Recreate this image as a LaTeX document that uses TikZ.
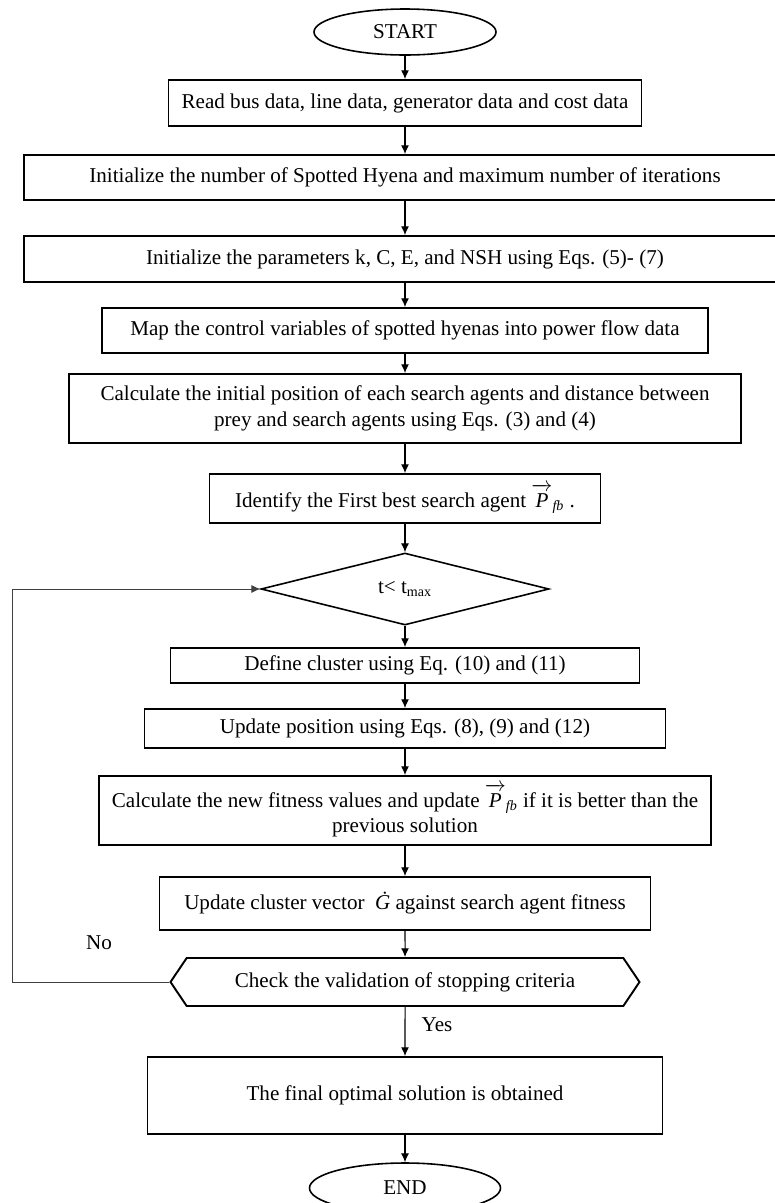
\documentclass[tikz,border=0pt]{standalone}
\usepackage{fontspec}
\setmainfont{Liberation Serif}
\usepackage{tikz}
\usetikzlibrary{shapes, backgrounds}
\usetikzlibrary{arrows.meta}

\newcommand{\pfb}{$\overrightarrow{\mathit{P}\rule{0pt}{10pt}}_{\mathit{fb}}$}

\begin{document}
\begin{tikzpicture}[internal/.style={draw, rectangle, line width=1.1pt, inner sep=4pt},
			terminal/.style={draw, ellipse, line width=0.9pt, inner sep=2pt},
			flow/.style={->, >={Latex[length=5pt, width=4.5pt]}, line width=0.6pt},
			every node/.style={font=\fontsize{12}{14.5}\selectfont},
			every text node part/.style={align=center}]
			\useasboundingbox (0, 0) rectangle (15.5, -24.06);

			\node[terminal, minimum width=3.64cm, minimum height=0.92cm](node1) at (8.1, -0.64) {START};
			\node[internal, minimum width=9.46cm, minimum height=0.92cm](node2) at (8.1, -2.06) {Read bus data, line data, generator data and cost data};
			\draw[flow] (node1) edge (node2);

			\node[internal, minimum width=15.24cm, minimum height=0.9cm](node3) at (8.1, -3.55) {Initialize the number of Spotted Hyena and maximum number of iterations};
			\draw[flow] (node2) edge (node3);

			\node[internal, minimum width=15.24cm, minimum height=0.92cm](node4) at (8.1, -5.18) {Initialize the parameters k, C, E, and NSH using Eqs. (5)- (7)};
			\draw[flow] (node3) edge (node4);

			\node[internal, minimum width=12.12cm, minimum height=0.9cm](node5) at (8.1, -6.61) {Map the control variables of spotted hyenas into power flow data};
			\draw[flow] (node4) edge (node5);

			\node[internal, minimum width=13.44cm, minimum height=1.38cm](node6) at (8.1, -8.17) {Calculate the initial position of each search agents and distance between\\ prey and search agents using Eqs. (3) and (4)};
			\draw[flow] (node5) edge (node6);

			\node[internal, minimum width=7.82cm, minimum height=0.98cm](node7) at (8.1, -9.97) {Identify the First best search agent \pfb\ .};
			\draw[flow] (node6) edge (node7);

			\node[draw, diamond, line width=0.9pt, inner sep=0pt, minimum width=5.76cm, minimum height=1.44cm](node8) at (8.1, -11.78) {t<~t\textsubscript{max}};
			\draw[flow] (node7) edge (node8);

			\node[internal, minimum width=9.38cm, minimum height=0.7cm](node9) at (8.1, -13.31) {Define cluster using Eq. (10) and (11)};
			\draw[flow] (node8) edge (node9);

			\node[internal, minimum width=10.42cm, minimum height=0.78cm](node10) at (8.1, -14.57) {Update position using Eqs. (8), (9) and (12)};
			\draw[flow] (node9) edge (node10);

			\node[internal, minimum width=12.24cm, minimum height=1.38cm](node11) at (8.1, -16.21) {Calculate the new fitness values and update \pfb\ if it is better than the\\ previous solution};
			\draw[flow] (node10) edge (node11);

			\node[internal, minimum width=9.82cm, minimum height=1.06cm](node12) at (8.1, -18.07) {Update cluster vector \ {\itshape\.G} against search agent fitness};
			\draw[flow] (node11) edge (node12);

			\node[draw, signal, signal to=west and east, signal pointer angle=112, line width=1.1pt, minimum width=9.38cm, minimum height=0.96cm](node13) at (8.1, -19.64) {Check the validation of stopping criteria};
			\draw[flow] (node12) edge (node13);

			\node[internal, minimum width=10.3cm, minimum height=1.54cm](node14) at (8.1, -21.91) {The final optimal solution is obtained};
			\draw[flow] (node13) edge (node14);
			\node (yes) at (8.74, -20.5) {Yes};

			\node[terminal, minimum width=3.82cm, minimum height=1cm](node15) at (8.1, -23.76) {END};
			\draw[flow] (node14) edge (node15);

			% loop back
			\coordinate (back) at (0.24, -19.64);
			\draw[flow, line width=0.4pt, draw=black!75] (node13.west) -- (back) |- (node8.west);
			\node (no) at (1.98, -18.86) {No};
			\end{tikzpicture}
\end{document}
